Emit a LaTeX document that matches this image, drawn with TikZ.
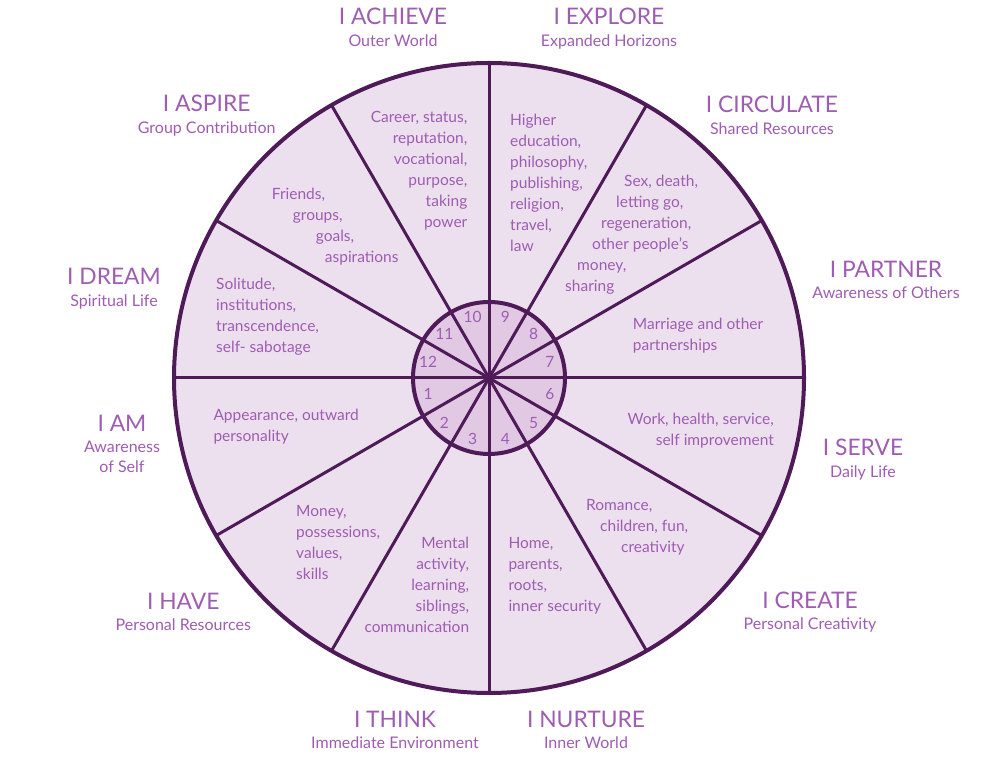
\documentclass[tikz,border=0pt]{standalone}
\usepackage{fontspec}
\setmainfont{Lato}
\usepackage{xcolor}
\usepackage{tikz}
\usetikzlibrary{positioning}

\definecolor{wheelline}{RGB}{78,26,88}
\definecolor{wheelfill}{RGB}{237,224,238}
\definecolor{hubfill}{RGB}{225,201,228}
\definecolor{labelpurple}{RGB}{158,92,178}

\begin{document}
\begin{tikzpicture}[
        x=1pt, y=1pt,
        spoke/.style={draw=wheelline, line width=3pt},
        rim/.style={draw=wheelline, line width=4pt},
        housenum/.style={
            font=\fontsize{15.5}{21}\selectfont,
            text=labelpurple,
            inner sep=0pt
        },
        area/.style={
            font=\fontsize{15.5}{21}\selectfont,
            text=labelpurple,
            inner sep=0pt
        },
        sign/.style={
            font=\fontsize{22.8}{26}\selectfont,
            text=labelpurple,
            inner sep=0pt,
            anchor=base
        },
        theme/.style={
            font=\fontsize{16}{20}\selectfont,
            text=labelpurple,
            inner sep=0pt,
            align=center
        }
    ]

    \useasboundingbox (0,0) rectangle (1000,779);
    \coordinate (hub) at (489,401);

    % wheel
    \fill[wheelfill] (hub) circle (315pt);
    \fill[hubfill] (hub) circle (76pt);
    \foreach \a in {0,30,...,330}
        \draw[spoke] (hub) -- ++(\a:315pt);
    \draw[rim] (hub) circle (76pt);
    \draw[rim] (hub) circle (315pt);
    \fill[wheelline] (hub) circle (3pt);

    % house numbers
    \foreach \k in {1,...,12}
        \node[housenum] (h\k) at ([shift={({195+30*(\k-1)}:63pt)}]hub) {\k};

    % areas of life
    \node[area, align=left, anchor=north west] (self) at (213.3,370.5) {Appearance, outward\\personality};
    \node[area, align=left, anchor=north west] (money) at (296,273.5) {Money,\\possessions,\\values,\\skills};
    \node[area, align=right, anchor=north east] (mind) at (469.3,241.8) {Mental\\activity,\\learning,\\siblings,\\communication};
    \node[area, align=left, anchor=north west] (home) at (508.3,241.8) {Home,\\parents,\\roots,\\inner security};
    \node[area, align=left, anchor=north west] (romance) at (586,279.5) {Romance,\\\hspace*{14pt}children, fun,\\\hspace*{35pt}creativity};
    \node[area, align=right, anchor=north east] (work) at (774,366.5) {Work, health, service,\\self improvement};
    \node[area, align=left, anchor=north west] (marriage) at (632.7,461.5) {Marriage and other\\partnerships};
    \node[area, align=left, anchor=north west] (sex) at (565,604.5) {\hspace*{59pt}Sex, death,\\\hspace*{51pt}letting go,\\\hspace*{36pt}regeneration,\\\hspace*{27pt}other people’s\\\hspace*{12pt}money,\\sharing};
    \node[area, align=left, anchor=north west] (higher) at (510,665.5) {Higher\\education,\\philosophy,\\publishing,\\religion,\\travel,\\law};
    \node[area, align=right, anchor=north east] (career) at (467.5,667.8) {Career, status,\\reputation,\\vocational,\\purpose,\\taking\\power};
    \node[area, align=left, anchor=north west] (friends) at (271.7,591.5) {Friends,\\\hspace*{21pt}groups,\\\hspace*{44pt}goals,\\\hspace*{53pt}aspirations};
    \node[area, align=left, anchor=north west] (solitude) at (216,501.2) {Solitude,\\institutions,\\transcendence,\\self- sabotage};

    % signs round the wheel
    \node[sign] (am) at (122,347.3) {I AM};
    \node[theme, below=9pt of am] (amsub) {Awareness\\of Self};
    \node[sign] (have) at (183.3,169.7) {I HAVE};
    \node[theme, below=9pt of have] (havesub) {Personal Resources};
    \node[sign] (think) at (395,51.7) {I THINK};
    \node[theme, below=9pt of think] (thinksub) {Immediate Environment};
    \node[sign] (nurture) at (586,51.7) {I NURTURE};
    \node[theme, below=9pt of nurture] (nurturesub) {Inner World};
    \node[sign] (create) at (810,170.7) {I CREATE};
    \node[theme, below=9pt of create] (createsub) {Personal Creativity};
    \node[sign] (serve) at (863,323) {I SERVE};
    \node[theme, below=9pt of serve] (servesub) {Daily Life};
    \node[sign] (partner) at (886,501.7) {I PARTNER};
    \node[theme, below=9pt of partner] (partnersub) {Awareness of Others};
    \node[sign] (circulate) at (772,666) {I CIRCULATE};
    \node[theme, below=9pt of circulate] (circulatesub) {Shared Resources};
    \node[sign] (explore) at (609,754) {I EXPLORE};
    \node[theme, below=9pt of explore] (exploresub) {Expanded Horizons};
    \node[sign] (achieve) at (393,754) {I ACHIEVE};
    \node[theme, below=9pt of achieve] (achievesub) {Outer World};
    \node[sign] (aspire) at (206.7,667.3) {I ASPIRE};
    \node[theme, below=9pt of aspire] (aspiresub) {Group Contribution};
    \node[sign] (dream) at (114,494) {I DREAM};
    \node[theme, below=9pt of dream] (dreamsub) {Spiritual Life};

\end{tikzpicture}
\end{document}
